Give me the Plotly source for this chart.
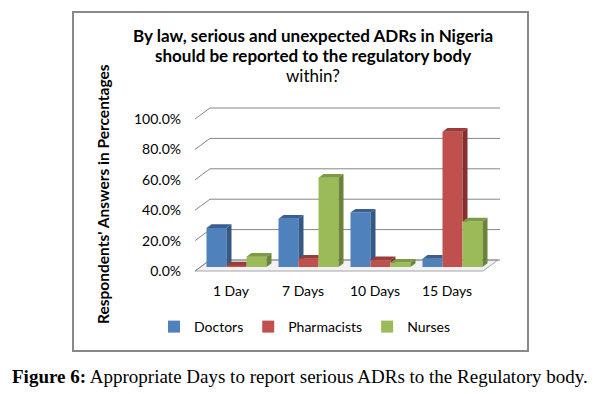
import plotly.graph_objects as go

# ---------------- data ----------------
categories = ["1 Day", "7 Days", "10 Days", "15 Days"]
series_names = ["Doctors", "Pharmacists", "Nurses"]
doctors = [25.7, 31.7, 35.8, 5.5]
pharmacists = [1.0, 5.5, 4.4, 89.0]
nurses = [6.8, 58.7, 2.9, 30.0]
y_ticks = [0, 20, 40, 60, 80, 100]

title_lines = ["By law, serious and unexpected ADRs in Nigeria",
               "should be reported to the regulatory body",
               "within?"]
title_bold_flags = [True, True, False]
y_title = "Respondents' Answers in Percentages"
caption_bold = "Figure 6:"
caption_text = " Appropriate Days to report serious ADRs to the Regulatory body."

# ---------------- style ----------------
W, H = 602, 394
ML, MR, MT, MB = 190, 97, 100, 119
PW, PH = W - ML - MR, H - MT - MB
X_PX = 72.0      # px per category
Y_PX = 1.52      # px per percent
X0_PX = 236.5    # px of bar-plane category 0
Y0_PX = 267.0    # px of bar-plane 0 %

xr = [(ML - X0_PX) / X_PX, (ML + PW - X0_PX) / X_PX]
yr = [(Y0_PX - (MT + PH)) / Y_PX, (Y0_PX - MT) / Y_PX]

def dx(px):
    return px / X_PX

def dy(px):
    return px / Y_PX

FDX, FDY = dx(-5.5), dy(-4.0)   # front plane offset
BDX, BDY = dx(9.5), dy(7.0)     # back plane offset
DDX, DDY = dx(5.0), dy(3.7)     # bar depth
BW = dx(20.0)                   # bar width
offsets = [dx(-30.0), dx(-10.0), dx(10.0)]

colors = {
    "Doctors": ("#4F81BD", "#3A6090", "#355884"),
    "Pharmacists": ("#C0504D", "#9A3D3A", "#85302E"),
    "Nurses": ("#9BBB59", "#7D9A44", "#6B843A"),
}
GRID = "#868686"
FONT = "Lato"

def clip(poly, axis, c, keep_ge):
    out = []
    n = len(poly)
    def inside(p):
        return p[axis] >= c if keep_ge else p[axis] <= c
    for k in range(n):
        cur, prv = poly[k], poly[k - 1]
        ci, pi = inside(cur), inside(prv)
        if ci != pi:
            t = (c - prv[axis]) / (cur[axis] - prv[axis])
            out.append((prv[0] + t * (cur[0] - prv[0]), prv[1] + t * (cur[1] - prv[1])))
        if ci:
            out.append(cur)
    return out

fig = go.Figure()
all_vals = [doctors, pharmacists, nurses]
xs = list(range(len(categories)))

for s, name in enumerate(series_names):
    front, top_c, side_c = colors[name]
    fig.add_trace(go.Bar(
        x=xs, y=all_vals[s], name=name, width=BW, offset=offsets[s],
        marker=dict(color=front, line=dict(width=0)),
    ))

for s, name in enumerate(series_names):
    front, top_c, side_c = colors[name]
    tops, sides = [], []
    for i in xs:
        v = all_vals[s][i]
        L = i + offsets[s]
        R = L + BW
        top = [(L, v), (R, v), (R + DDX, v + DDY), (L + DDX, v + DDY)]
        side = [(R, 0), (R + DDX, DDY), (R + DDX, v + DDY), (R, v)]
        if s + 1 < len(series_names):
            v2 = all_vals[s + 1][i]
            side_parts = [clip(side, 1, v2, True)]
            top_parts = [clip(top, 0, R, False), clip(clip(top, 0, R, True), 1, v2, True)]
        else:
            side_parts = [side]
            top_parts = [top]
        for p in top_parts:
            if len(p) >= 3:
                tops.append(p)
        for p in side_parts:
            if len(p) >= 3:
                sides.append(p)
    for polys, col in ((sides, side_c), (tops, top_c)):
        px_, py_ = [], []
        for p in polys:
            px_ += [q[0] for q in p] + [p[0][0], None]
            py_ += [q[1] for q in p] + [p[0][1], None]
        fig.add_trace(go.Scatter(
            x=px_, y=py_, mode="lines", fill="toself", fillcolor=col,
            line=dict(width=0, color=col), showlegend=False, hoverinfo="skip",
        ))

shapes = []
x_left, x_right = -0.5, len(categories) - 0.5
# floor
shapes.append(dict(
    type="path", xref="x", yref="y", layer="below",
    path=(f"M{x_left + FDX},{FDY} L{x_right + FDX},{FDY} "
          f"L{x_right + BDX},{BDY} L{x_left + BDX},{BDY} Z"),
    line=dict(color="#A6A6A6", width=1), fillcolor="#F2F2F2",
))
for v in y_ticks:
    shapes.append(dict(type="line", xref="x", yref="y", layer="below",
                       x0=x_left + BDX, x1=x_right + BDX + dx(2), y0=v + BDY, y1=v + BDY,
                       line=dict(color=GRID, width=1)))
    shapes.append(dict(type="line", xref="x", yref="y", layer="below",
                       x0=x_left + FDX, x1=x_left + BDX, y0=v + FDY, y1=v + BDY,
                       line=dict(color=GRID, width=1)))

def paper_x(px):
    return (px - ML) / PW

def paper_y(py):
    return (MT + PH - py) / PH

shapes.append(dict(type="rect", xref="paper", yref="paper",
                   x0=paper_x(73), x1=paper_x(528), y0=paper_y(351), y1=paper_y(12),
                   line=dict(color="#888888", width=2)))

annotations = []
for k, (line, bold) in enumerate(zip(title_lines, title_bold_flags)):
    annotations.append(dict(
        xref="paper", yref="paper", x=paper_x(313), y=paper_y(35 + 20 * k),
        xanchor="center", yanchor="middle", showarrow=False,
        text=f"<b>{line}</b>" if bold else line,
        font=dict(family=FONT, size=17, color="#000000")))
annotations += [
    dict(xref="paper", yref="paper", x=paper_x(103), y=paper_y(194),
         xanchor="center", yanchor="middle", showarrow=False, textangle=-90,
         text=f"<b>{y_title}</b>",
         font=dict(family=FONT, size=15.5, color="#000000")),
    dict(xref="paper", yref="paper", x=paper_x(300), y=paper_y(376),
         xanchor="center", yanchor="middle", showarrow=False,
         text=f"<b>{caption_bold}</b>{caption_text}",
         font=dict(family="Liberation Serif", size=19, color="#000000")),
]

fig.update_layout(
    width=W, height=H, autosize=False,
    margin=dict(l=ML, r=MR, t=MT, b=MB, autoexpand=False),
    paper_bgcolor="white", plot_bgcolor="white",
    barmode="overlay",
    showlegend=True,
    legend=dict(orientation="h", xanchor="center", yanchor="middle",
                x=paper_x(305), y=paper_y(327),
                font=dict(family=FONT, size=14, color="#000000"),
                itemwidth=30, bgcolor="rgba(0,0,0,0)"),
    shapes=shapes,
    annotations=annotations,
    xaxis=dict(range=xr, showgrid=False, zeroline=False, showline=False,
               tickmode="array", tickvals=[i + FDX for i in xs], ticktext=categories,
               ticks="", ticklabelstandoff=6,
               tickfont=dict(family=FONT, size=14, color="#000000"), fixedrange=True),
    yaxis=dict(range=yr, showgrid=False, zeroline=False, showline=False,
               tickmode="array", tickvals=[v + FDY for v in y_ticks],
               ticktext=[f"{v:.1f}%" for v in y_ticks],
               ticks="", ticklabelstandoff=8,
               tickfont=dict(family=FONT, size=14, color="#000000"), fixedrange=True),
)

fig.write_html("out.html")
